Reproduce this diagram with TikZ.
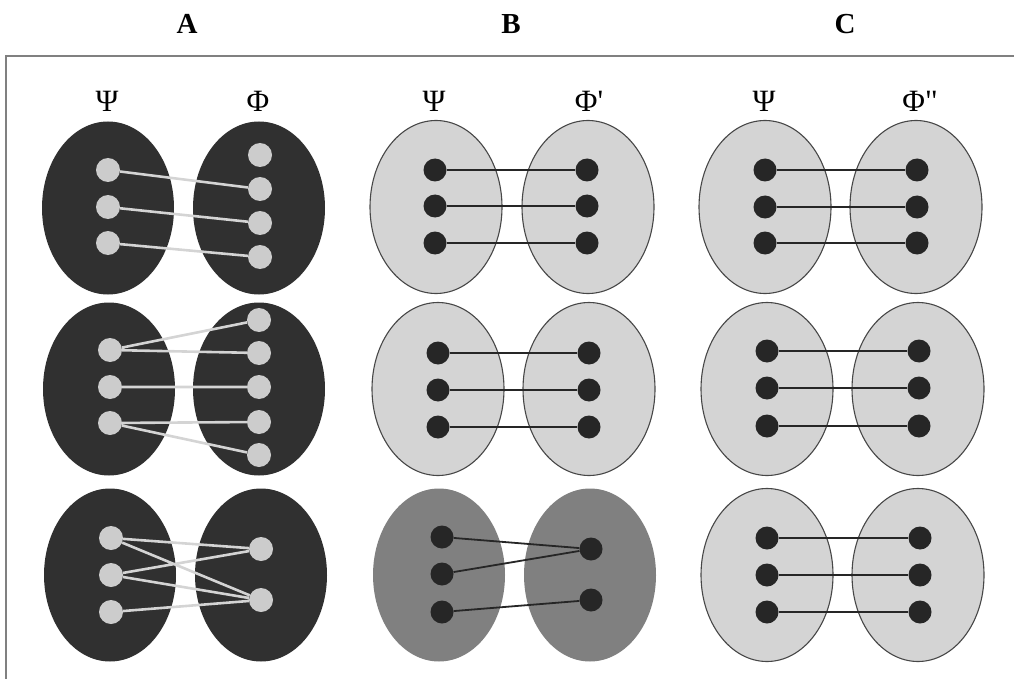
\documentclass[tikz,border=0pt]{standalone}
\usepackage{fontspec}
\setmainfont{Liberation Serif}
\usetikzlibrary{shapes.geometric}

\begin{document}
\begin{tikzpicture}[x=1pt, y=-1pt,
    blob/.style={ellipse, minimum width=132pt, minimum height=173pt, inner sep=0pt},
    darkblob/.style={blob, fill=black!81},
    lightblob/.style={blob, fill=black!17, draw=black!72, line width=1.1pt},
    midblob/.style={blob, fill=black!50},
    lightdot/.style={circle, fill=black!20, minimum size=24pt, inner sep=0pt},
    darkdot/.style={circle, fill=black!85, minimum size=23pt, inner sep=0pt},
    lightlink/.style={draw=black!17, line width=2.6pt},
    darklink/.style={draw=black!85, line width=1.8pt},
    lbl/.style={font=\fontsize{31}{31}\selectfont},
    hdr/.style={font=\bfseries\fontsize{29}{29}\selectfont}]
    \useasboundingbox (0,0) rectangle (1014,679);

    % frame, open to the right and bottom
    \draw [black!50, line width=2pt] (6,700) -- (6,56) -- (1020,56);

    % column titles
    \node (hA) at (187,24) [hdr] {A};
    \node (hB) at (511,24) [hdr] {B};
    \node (hC) at (845,24) [hdr] {C};

    % set names
    \node (lA1) at (107,101) [lbl] {Ψ};
    \node (lA2) at (258,101) [lbl] {Φ};
    \node (lB1) at (434,101) [lbl] {Ψ};
    \node (lB2) at (589,101) [lbl] {Φ\textquotesingle};
    \node (lC1) at (764,101) [lbl] {Ψ};
    \node (lC2) at (920,101) [lbl] {Φ\textquotedbl};

    % column A
    \node (a1s) at (108,208) [darkblob] {};
    \node (a1f) at (259,208) [darkblob] {};
    \node (a2s) at (109,389) [darkblob] {};
    \node (a2f) at (259,389) [darkblob] {};
    \node (a3s) at (110,575) [darkblob] {};
    \node (a3f) at (261,575) [darkblob] {};

    \foreach \i/\y in {1/170,2/207,3/243} \node (a1s\i) at (108,\y) [lightdot] {};
    \foreach \i/\y in {1/155,2/189,3/223,4/257} \node (a1f\i) at (260,\y) [lightdot] {};
    \draw [lightlink] (a1s1) -- (a1f2) (a1s2) -- (a1f3) (a1s3) -- (a1f4);

    \foreach \i/\y in {1/350,2/387,3/423} \node (a2s\i) at (110,\y) [lightdot] {};
    \foreach \i/\y in {1/320,2/353,3/387,4/422,5/455} \node (a2f\i) at (259,\y) [lightdot] {};
    \draw [lightlink] (a2s1) -- (a2f1) (a2s1) -- (a2f2) (a2s2) -- (a2f3)
        (a2s3) -- (a2f4) (a2s3) -- (a2f5);

    \foreach \i/\y in {1/538,2/575,3/612} \node (a3s\i) at (111,\y) [lightdot] {};
    \foreach \i/\y in {1/549,2/600} \node (a3f\i) at (261,\y) [lightdot] {};
    \draw [lightlink] (a3s1) -- (a3f1) (a3s1) -- (a3f2) (a3s2) -- (a3f1)
        (a3s2) -- (a3f2) (a3s3) -- (a3f2);

    % column B
    \node (b1s) at (436,207) [lightblob] {};
    \node (b1f) at (588,207) [lightblob] {};
    \node (b2s) at (438,389) [lightblob] {};
    \node (b2f) at (589,389) [lightblob] {};
    \node (b3s) at (439,575) [midblob] {};
    \node (b3f) at (590,575) [midblob] {};

    \foreach \i/\y in {1/170,2/206,3/243} {
        \node (b1s\i) at (435,\y) [darkdot] {};
        \node (b1f\i) at (587,\y) [darkdot] {};
        \draw [darklink] (b1s\i) -- (b1f\i);
    }
    \foreach \i/\y in {1/353,2/390,3/427} {
        \node (b2s\i) at (438,\y) [darkdot] {};
        \node (b2f\i) at (589,\y) [darkdot] {};
        \draw [darklink] (b2s\i) -- (b2f\i);
    }
    \foreach \i/\y in {1/537,2/574,3/612} \node (b3s\i) at (442,\y) [darkdot] {};
    \foreach \i/\y in {1/549,2/600} \node (b3f\i) at (591,\y) [darkdot] {};
    \draw [darklink] (b3s1) -- (b3f1) (b3s2) -- (b3f1) (b3s3) -- (b3f2);

    % column C
    \node (c1s) at (765,207) [lightblob] {};
    \node (c1f) at (916,207) [lightblob] {};
    \node (c2s) at (767,389) [lightblob] {};
    \node (c2f) at (918,389) [lightblob] {};
    \node (c3s) at (767,575) [lightblob] {};
    \node (c3f) at (918,575) [lightblob] {};

    \foreach \i/\y in {1/170,2/207,3/243} {
        \node (c1s\i) at (765,\y) [darkdot] {};
        \node (c1f\i) at (917,\y) [darkdot] {};
        \draw [darklink] (c1s\i) -- (c1f\i);
    }
    \foreach \i/\y in {1/351,2/388,3/426} {
        \node (c2s\i) at (767,\y) [darkdot] {};
        \node (c2f\i) at (919,\y) [darkdot] {};
        \draw [darklink] (c2s\i) -- (c2f\i);
    }
    \foreach \i/\y in {1/538,2/575,3/612} {
        \node (c3s\i) at (767,\y) [darkdot] {};
        \node (c3f\i) at (920,\y) [darkdot] {};
        \draw [darklink] (c3s\i) -- (c3f\i);
    }
\end{tikzpicture}
\end{document}
